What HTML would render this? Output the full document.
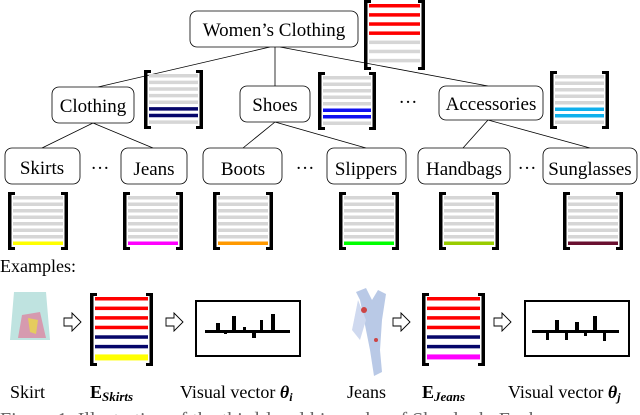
<!DOCTYPE html>
<html><head><meta charset="utf-8"><style>
html,body{margin:0;padding:0;background:#fff;}
svg{display:block;font-family:"Liberation Serif",serif;}
</style></head><body>
<svg id="s" width="640" height="415" viewBox="0 0 640 415" xmlns="http://www.w3.org/2000/svg">
<g stroke="#000" stroke-width="0.8" fill="none">
<line x1="270" y1="47" x2="98" y2="87"/><line x1="275" y1="47" x2="275" y2="86"/><line x1="280" y1="47" x2="488" y2="86"/>
<line x1="93" y1="123" x2="42" y2="148"/><line x1="93" y1="123" x2="153" y2="148"/>
<line x1="275" y1="122" x2="243" y2="148"/><line x1="275" y1="122" x2="366" y2="148"/>
<line x1="488" y1="120" x2="463" y2="148"/><line x1="488" y1="120" x2="590" y2="148"/>
</g>
<g fill="#fff" stroke="#000" stroke-width="0.8">
<rect x="190" y="11" width="168" height="36" rx="7"/>
<rect x="52" y="87" width="82" height="36" rx="7"/>
<rect x="240" y="86" width="70" height="36" rx="7"/>
<rect x="439" y="86" width="104" height="34" rx="7"/>
<rect x="5" y="148" width="75" height="36" rx="7"/>
<rect x="121" y="148" width="66" height="36" rx="7"/>
<rect x="203" y="148" width="79" height="36" rx="7"/>
<rect x="327" y="148" width="79" height="36" rx="7"/>
<rect x="418" y="148" width="92" height="36" rx="7"/>
<rect x="543" y="148" width="94" height="36" rx="7"/>
</g>
<g font-size="19" text-anchor="middle" fill="#000">
<text x="274" y="36">Women’s Clothing</text>
<text x="93" y="112">Clothing</text>
<text x="275" y="111">Shoes</text>
<text x="491" y="110">Accessories</text>
<text x="42" y="174">Skirts</text>
<text x="154" y="175">Jeans</text>
<text x="243" y="175">Boots</text>
<text x="366" y="175">Slippers</text>
<text x="464" y="175">Handbags</text>
<text x="590" y="175">Sunglasses</text>
<text x="408" y="108">···</text>
<text x="100" y="174">···</text>
<text x="305" y="174">···</text>
<text x="527" y="174">···</text>
</g>
<g font-size="18" fill="#000">
<text x="0" y="272">Examples:</text>
<text x="10" y="398">Skirt</text>
<text x="90" y="398" font-weight="bold">E<tspan font-size="13" font-style="italic" dy="3">Skirts</tspan></text>
<text x="180" y="398">Visual vector <tspan font-weight="bold" font-style="italic">θ<tspan font-size="12" dy="3">i</tspan></tspan></text>
<text x="347" y="398">Jeans</text>
<text x="422" y="398" font-weight="bold">E<tspan font-size="13" font-style="italic" dy="3">Jeans</tspan></text>
<text x="508" y="398">Visual vector <tspan font-weight="bold" font-style="italic">θ<tspan font-size="12" dy="3">j</tspan></tspan></text>
<text x="0" y="426" fill="#666" font-size="20">Figure 1: Illustration of the third-level hierarchy of Shoplook. Each</text>
</g>
<g>
<path d="M14 292 L46 292 L50 340 L10 340 Z" fill="#bfe3e0"/>
<path d="M22 315 L40 312 L46 338 L18 338 Z" fill="#e07a9a" opacity="0.7"/>
<path d="M28 318 L38 320 L36 334 L30 332 Z" fill="#e8d84a" opacity="0.8"/>
<path d="M356 292 L366 288 L372 300 L378 290 L386 294 L382 320 L380 350 L382 372 L374 376 L370 350 L366 330 L360 300 Z" fill="#b9c9e6"/>
<path d="M358 300 L366 320 L360 340 L352 330 Z" fill="#cfd9ef"/>
<circle cx="364" cy="310" r="3" fill="#c44"/><circle cx="376" cy="340" r="2" fill="#c44"/>
</g>
<g fill="#fff" stroke="#000" stroke-width="0.9">
<path d="M64 318 h8 v-5 l9 9 -9 9 v-5 h-8 z"/>
<path d="M166 318 h8 v-5 l9 9 -9 9 v-5 h-8 z"/>
<path d="M393 318 h8 v-5 l9 9 -9 9 v-5 h-8 z"/>
<path d="M494 318 h8 v-5 l9 9 -9 9 v-5 h-8 z"/>
</g>
<g fill="none" stroke="#000" stroke-width="2">
<rect x="196" y="301" width="104" height="55"/>
<rect x="525" y="301" width="104" height="55"/>
</g>
<g fill="#000">
<rect x="205" y="330" width="85" height="3"/>
<rect x="216" y="323" width="4" height="8"/><rect x="224" y="331" width="3" height="3"/><rect x="232" y="316" width="4" height="15"/><rect x="243" y="327" width="3" height="4"/><rect x="252" y="331" width="4" height="7"/><rect x="260" y="320" width="3" height="11"/><rect x="271" y="314" width="4" height="17"/>
<rect x="532" y="330" width="87" height="3"/>
<rect x="546" y="331" width="3" height="9"/><rect x="555" y="320" width="4" height="11"/><rect x="565" y="331" width="3" height="9"/><rect x="575" y="322" width="4" height="9"/><rect x="584" y="331" width="3" height="5"/><rect x="593" y="316" width="4" height="15"/><rect x="603" y="331" width="3" height="10"/>
</g>
<g id="mats"></g>
</svg>
<script>
var g=document.getElementById('mats'),NS="http://www.w3.org/2000/svg";
function r(x,y,w,h,c){var e=document.createElementNS(NS,'rect');e.setAttribute('x',x);e.setAttribute('y',y);e.setAttribute('width',w);e.setAttribute('height',h);e.setAttribute('fill',c);g.appendChild(e);}
function m(x,y,w,h,cols,sh){var n=cols.length,p=(h-6)/n;sh=sh||3.5;
for(var i=0;i<n;i++){var hh=(i==n-1&&sh>4)?sh:3.5;r(x+5,y+4+i*p,w-10,hh,cols[i]);}
r(x,y,3.5,h,'#000');r(x+w-3.5,y,3.5,h,'#000');r(x,y,7,3,'#000');r(x,y+h-3,7,3,'#000');r(x+w-7,y,7,3,'#000');r(x+w-7,y+h-3,7,3,'#000');}
var G='#d6d6d6',R='#f00',N='#06066a';
m(364,0,61,70,[R,R,R,R,G,G,G]);
m(144,70,59,59,[G,G,G,G,G,N,N,G]);
m(318,72,58,58,[G,G,G,G,G,'#1010f0','#1010f0',G]);
m(550,71,59,58,[G,G,G,G,G,'#10b0ec','#10b0ec',G]);
var B=[[8,'#ff0'],[123,'#f0f'],[213,'#f90'],[339,'#0f0'],[439,'#9c0'],[563,'#6a1030']];
B.forEach(function(b){m(b[0],192,60,58,[G,G,G,G,G,G,G,b[1]]);});
m(90,293,63,73,[R,R,R,R,N,N,'#ff0'],6);
m(422,293,63,73,[R,R,R,R,N,N,'#f0f'],5);
</script>
</body></html>
